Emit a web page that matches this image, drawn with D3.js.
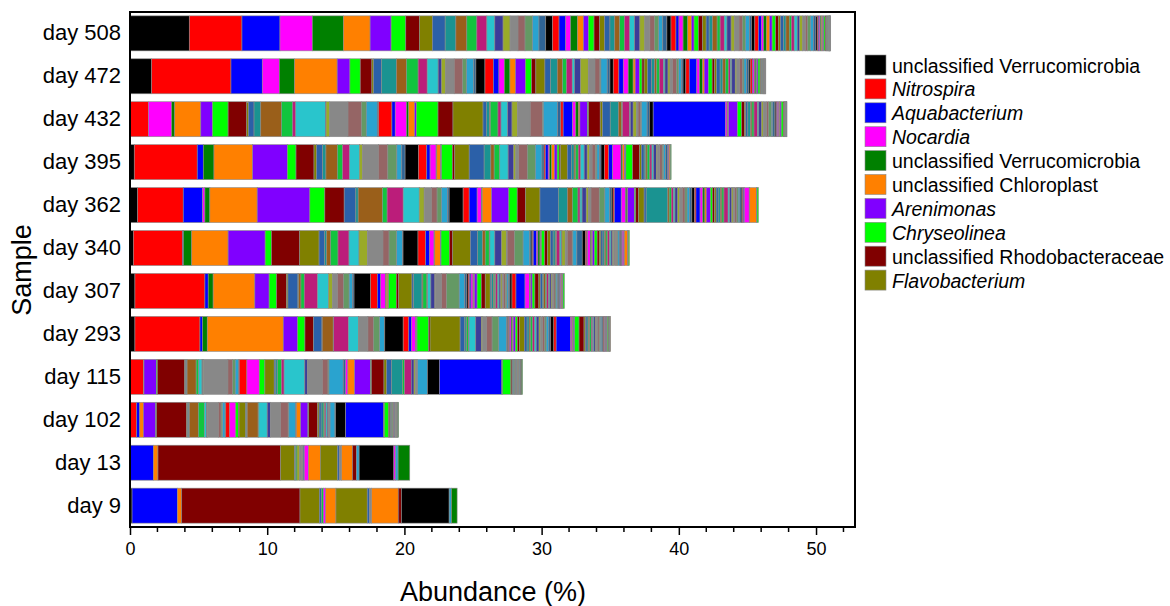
<!DOCTYPE html>
<html>
<head>
<meta charset="utf-8">
<script src="https://cdn.jsdelivr.net/npm/d3@7"></script>
<style>
  body { margin: 0; background: #fff; }
  text { font-family: "Liberation Sans", Arial, sans-serif; }
</style>
</head>
<body>
<svg id="chart" width="1170" height="606"></svg>
<script>
// samples, top to bottom
const samples = ["day 508", "day 472", "day 432", "day 395", "day 362", "day 340",
                 "day 307", "day 293", "day 115", "day 102", "day 13", "day 9"];

// colour cycle used for the taxa (repeats every 23 taxa)
const palette = ["#000000", "#FF0000", "#0000FF", "#FF00FF", "#008000", "#FF8000",
                 "#8000FF", "#00FF00", "#800000", "#808000", "#2B60A8", "#1A9391",
                 "#9A5F1A", "#12C43E", "#BB1D7A", "#29C5CC", "#3C3C99", "#99AA29",
                 "#888888", "#956565", "#649964", "#2AA3CF", "#2F6495"];

const legendLabels = ["unclassified Verrucomicrobia", "Nitrospira", "Aquabacterium", "Nocardia",
                      "unclassified Verrucomicrobia", "unclassified Chloroplast", "Arenimonas",
                      "Chryseolinea", "unclassified Rhodobacteraceae", "Flavobacterium"];
const legendItalic = [false, true, true, true, false, false, true, true, false, true];

const xTicks = [0, 10, 20, 30, 40, 50];

// abundance (%) of each taxon, in stacking order (115 taxa)
const day508 = [
  4.32, 3.84, 2.77, 2.36, 2.26, 1.95, 1.53, 1.07, 0.99, 0.95, 0.93, 0.78, 0.80, 0.73, 0.73, 0.58, 0.60, 0.51, 0.58, 0.51, 0.54, 0.48, 0.49,
  0.49, 0.48, 0.49, 0.36, 0.49, 0.44, 0.36, 0.41, 0.41, 0.36, 0.39, 0.35, 0.36, 0.35, 0.38, 0.36, 0.38, 0.36, 0.37, 0.34, 0.30, 0.30, 0.30,
  0.30, 0.36, 0.22, 0.30, 0.34, 0.28, 0.18, 0.32, 0.30, 0.26, 0.22, 0.24, 0.34, 0.22, 0.30, 0.20, 0.30, 0.26, 0.32, 0.24, 0.22, 0.30, 0.15,
  0.24, 0.26, 0.22, 0.16, 0.20, 0.24, 0.18, 0.26, 0.20, 0.15, 0.22, 0.18, 0.24, 0.16, 0.20, 0.22, 0.18, 0.22, 0.20, 0.16, 0.20, 0.22, 0.18,
  0.10, 0.08, 0.06, 0.08, 0.08, 0.10, 0.08, 0.10, 0.06, 0.04, 0.04, 0.04, 0.03, 0.03, 0.02, 0.02, 0.02, 0.02, 0.01, 0.01, 0.01, 0.01, 0.04];
const day472 = [
  1.58, 5.78, 2.28, 1.24, 1.12, 3.10, 0.93, 0.75, 0.85, 0.12, 0.58, 1.09, 0.73, 0.85, 0.66, 0.80, 0.25, 0.29, 0.63, 0.61, 0.29, 0.53, 0.15,
  0.66, 0.61, 0.41, 0.39, 0.41, 0.41, 0.73, 0.44, 0.31, 0.66, 0.41, 0.49, 0.39, 0.29, 0.41, 0.17, 0.44, 0.56, 0.49, 0.36, 0.07, 0.46, 0.20,
  0.24, 0.41, 0.32, 0.36, 0.36, 0.15, 0.30, 0.20, 0.15, 0.25, 0.30, 0.22, 0.15, 0.20, 0.28, 0.12, 0.22, 0.15, 0.18, 0.30, 0.15, 0.20, 0.12,
  0.20, 0.25, 0.55, 0.20, 0.22, 0.12, 0.30, 0.28, 0.18, 0.15, 0.25, 0.20, 0.18, 0.22, 0.15, 0.10, 0.25, 0.12, 0.20, 0.22, 0.10, 0.20, 0.15,
  0.10, 0.15, 0.05, 0.12, 0.10, 0.05, 0.10, 0.15, 0.05, 0.05, 0.04, 0.04, 0.03, 0.03, 0.02, 0.02, 0.02, 0.02, 0.02, 0.02, 0.02, 0.02, 0.02];
const day432 = [
  0.05, 1.29, 0.00, 1.70, 0.22, 1.90, 0.85, 1.14, 1.36, 0.12, 0.41, 0.49, 1.51, 0.82, 0.22, 2.16, 0.05, 0.26, 1.34, 0.97, 0.36, 0.80, 0.10,
  0.00, 0.97, 0.24, 0.83, 0.15, 0.44, 0.12, 1.58, 1.09, 2.19, 0.24, 0.24, 0.05, 0.56, 0.22, 0.49, 0.31, 0.41, 0.92, 0.90, 0.05, 1.04, 0.24,
  0.00, 0.17, 0.68, 0.24, 0.20, 0.10, 0.56, 0.07, 0.85, 0.17, 0.56, 0.60, 0.24, 0.05, 0.53, 0.05, 0.20, 0.24, 0.12, 0.20, 0.05, 0.41, 0.17,
  0.27, 0.00, 5.27, 0.12, 0.05, 0.05, 0.66, 0.30, 0.20, 0.10, 0.15, 0.20, 0.10, 0.15, 0.25, 0.10, 0.20, 0.12, 0.25, 0.15, 0.20, 0.10, 0.15,
  0.08, 0.06, 0.05, 0.10, 0.05, 0.04, 0.08, 0.15, 0.05, 0.03, 0.02, 0.02, 0.02, 0.02, 0.02, 0.02, 0.01, 0.01, 0.01, 0.01, 0.01, 0.01, 0.01];
const day395 = [
  0.31, 4.59, 0.44, 0.00, 0.78, 2.82, 2.53, 0.63, 1.31, 0.19, 0.44, 0.24, 0.83, 0.39, 0.49, 0.73, 0.00, 0.22, 1.17, 0.68, 0.66, 0.36, 0.24,
  0.97, 0.61, 0.24, 0.44, 0.05, 0.29, 0.05, 0.80, 0.17, 1.05, 1.09, 0.49, 0.24, 0.41, 0.00, 0.61, 0.41, 0.15, 0.21, 0.63, 0.58, 0.49, 0.15,
  0.00, 0.10, 0.20, 0.10, 0.15, 0.20, 0.20, 0.15, 0.10, 0.49, 0.30, 0.20, 0.12, 0.18, 0.18, 0.25, 0.22, 0.18, 0.18, 0.25, 0.10, 0.18, 0.12,
  0.24, 0.32, 0.29, 0.61, 0.10, 0.15, 0.10, 0.49, 0.49, 0.15, 0.20, 0.12, 0.10, 0.20, 0.15, 0.12, 0.20, 0.10, 0.15, 0.18, 0.10, 0.15, 0.12,
  0.02, 0.02, 0.02, 0.06, 0.02, 0.08, 0.02, 0.04, 0.00, 0.00, 0.00, 0.00, 0.00, 0.00, 0.00, 0.00, 0.00, 0.00, 0.00, 0.00, 0.00, 0.00, 0.00];
const day362 = [
  0.56, 3.32, 1.41, 0.17, 0.36, 3.45, 3.84, 1.09, 1.41, 0.00, 0.85, 0.17, 1.77, 0.34, 1.17, 1.17, 0.00, 0.36, 0.53, 0.41, 0.32, 0.44, 0.12,
  1.02, 0.44, 0.58, 0.32, 0.05, 0.68, 1.26, 0.61, 0.61, 1.05, 1.34, 0.66, 0.36, 0.41, 0.15, 0.15, 0.30, 0.15, 0.20, 0.60, 0.41, 0.36, 0.12,
  0.12, 0.10, 0.49, 0.32, 0.10, 0.05, 0.49, 0.10, 0.20, 0.41, 0.15, 1.58, 0.10, 0.15, 0.15, 0.12, 0.20, 0.15, 0.18, 0.20, 0.15, 0.20, 0.15,
  0.20, 0.10, 0.30, 0.20, 0.15, 0.10, 0.30, 0.15, 0.15, 0.12, 0.15, 0.15, 0.12, 0.15, 0.30, 0.12, 0.15, 0.10, 0.12, 0.15, 0.10, 0.12, 0.10,
  0.10, 0.06, 0.06, 0.36, 0.04, 0.49, 0.04, 0.10, 0.00, 0.00, 0.00, 0.00, 0.00, 0.00, 0.00, 0.00, 0.00, 0.00, 0.00, 0.00, 0.00, 0.00, 0.00];
const day340 = [
  0.24, 3.60, 0.05, 0.00, 0.61, 2.65, 2.70, 0.46, 2.06, 1.41, 0.41, 0.15, 0.29, 0.53, 0.80, 0.73, 0.00, 0.61, 1.14, 0.44, 0.56, 0.41, 0.05,
  1.09, 0.56, 0.29, 0.32, 0.05, 0.41, 0.05, 0.61, 0.24, 1.29, 0.53, 0.36, 0.19, 0.29, 0.05, 0.36, 0.49, 0.36, 0.05, 0.53, 0.63, 0.49, 0.10,
  0.10, 0.05, 0.24, 0.10, 0.15, 0.05, 0.05, 0.24, 0.20, 0.22, 0.20, 0.15, 0.05, 0.05, 0.24, 0.10, 0.05, 0.24, 0.15, 0.36, 0.05, 0.29, 0.39,
  0.24, 0.10, 0.05, 0.20, 0.10, 0.05, 0.15, 0.20, 0.15, 0.12, 0.15, 0.12, 0.10, 0.12, 0.15, 0.10, 0.12, 0.08, 0.12, 0.10, 0.08, 0.10, 0.08,
  0.05, 0.05, 0.04, 0.12, 0.03, 0.25, 0.04, 0.08, 0.00, 0.00, 0.00, 0.00, 0.00, 0.00, 0.00, 0.00, 0.00, 0.00, 0.00, 0.00, 0.00, 0.00, 0.00];
const day307 = [
  0.36, 5.10, 0.24, 0.00, 0.36, 3.04, 1.04, 0.54, 0.73, 0.10, 0.73, 0.05, 0.17, 0.24, 0.97, 0.80, 0.00, 0.29, 0.36, 0.44, 0.41, 0.24, 0.12,
  1.21, 0.49, 0.24, 0.36, 0.05, 0.12, 0.05, 0.56, 0.17, 0.97, 0.12, 0.61, 0.07, 0.29, 0.05, 0.24, 0.29, 0.05, 0.44, 0.36, 0.92, 0.41, 0.15,
  0.10, 0.10, 0.10, 0.15, 0.05, 0.05, 0.20, 0.30, 0.29, 0.36, 0.10, 0.15, 0.05, 0.10, 0.15, 0.10, 0.12, 0.10, 0.10, 0.15, 0.10, 0.12, 0.10,
  0.15, 0.29, 0.66, 0.32, 0.05, 0.05, 0.10, 0.20, 0.29, 0.10, 0.15, 0.10, 0.12, 0.10, 0.15, 0.08, 0.10, 0.08, 0.10, 0.10, 0.08, 0.10, 0.08,
  0.04, 0.04, 0.04, 0.06, 0.04, 0.06, 0.04, 0.10, 0.00, 0.00, 0.00, 0.00, 0.00, 0.00, 0.00, 0.00, 0.00, 0.00, 0.00, 0.00, 0.00, 0.00, 0.00];
const day293 = [
  0.36, 4.74, 0.19, 0.00, 0.34, 5.54, 1.05, 0.53, 0.61, 0.02, 0.61, 0.02, 0.80, 0.03, 1.07, 0.73, 0.00, 0.02, 0.68, 0.41, 0.44, 0.36, 0.02,
  1.34, 0.41, 0.19, 0.32, 0.03, 0.03, 0.03, 0.85, 0.10, 2.19, 0.34, 0.10, 0.03, 0.15, 0.03, 0.49, 0.41, 0.10, 0.29, 0.39, 0.49, 0.58, 0.07,
  0.05, 0.05, 0.05, 0.10, 0.10, 0.05, 0.15, 0.15, 0.15, 0.36, 0.20, 0.15, 0.10, 0.15, 0.15, 0.12, 0.20, 0.12, 0.15, 0.15, 0.10, 0.20, 0.12,
  0.24, 0.17, 1.05, 0.10, 0.05, 0.05, 0.10, 0.32, 0.36, 0.10, 0.12, 0.10, 0.10, 0.12, 0.10, 0.08, 0.12, 0.08, 0.10, 0.10, 0.08, 0.10, 0.08,
  0.05, 0.05, 0.04, 0.06, 0.04, 0.04, 0.04, 0.10, 0.04, 0.02, 0.02, 0.02, 0.02, 0.00, 0.00, 0.00, 0.00, 0.00, 0.00, 0.00, 0.00, 0.00, 0.00];
const day115 = [
  0.05, 0.92, 0.00, 0.00, 0.00, 0.05, 0.90, 0.07, 2.00, 0.06, 0.06, 0.05, 0.66, 0.19, 0.00, 0.24, 0.06, 0.06, 1.77, 0.34, 0.19, 0.24, 0.05,
  0.00, 0.56, 0.00, 0.90, 0.00, 0.00, 0.00, 0.41, 0.00, 0.68, 0.12, 0.12, 0.00, 0.29, 0.19, 1.51, 0.19, 0.00, 1.09, 0.41, 0.07, 1.04, 0.17,
  0.00, 0.00, 0.00, 0.17, 0.00, 0.49, 1.17, 0.05, 0.92, 0.20, 0.35, 0.80, 0.00, 0.15, 0.49, 0.00, 0.20, 0.10, 0.10, 0.05, 0.00, 0.73, 0.00,
  0.87, 0.00, 4.55, 0.00, 0.05, 0.00, 0.00, 0.61, 0.08, 0.05, 0.06, 0.06, 0.04, 0.06, 0.05, 0.04, 0.04, 0.04, 0.04, 0.04, 0.04, 0.04, 0.04,
  0.02, 0.02, 0.00, 0.00, 0.06, 0.00, 0.00, 0.02, 0.00, 0.00, 0.00, 0.00, 0.00, 0.00, 0.00, 0.00, 0.00, 0.00, 0.00, 0.00, 0.00, 0.00, 0.00];
const day102 = [
  0.05, 0.44, 0.22, 0.00, 0.00, 0.27, 0.90, 0.05, 2.20, 0.07, 0.06, 0.06, 0.66, 0.44, 0.00, 0.15, 0.05, 0.05, 0.78, 0.19, 0.10, 0.19, 0.05,
  0.00, 0.29, 0.00, 0.44, 0.00, 0.00, 0.00, 0.19, 0.05, 0.49, 0.05, 0.05, 0.80, 0.05, 0.00, 0.61, 0.24, 0.00, 0.73, 0.56, 0.05, 0.49, 0.05,
  0.00, 0.00, 0.00, 0.00, 0.00, 0.32, 0.53, 0.05, 0.66, 0.10, 0.15, 0.15, 0.00, 0.10, 0.10, 0.10, 0.10, 0.00, 0.10, 0.00, 0.00, 0.36, 0.05,
  0.73, 0.00, 2.77, 0.00, 0.05, 0.00, 0.00, 0.32, 0.08, 0.05, 0.05, 0.05, 0.05, 0.05, 0.05, 0.04, 0.04, 0.04, 0.04, 0.03, 0.03, 0.03, 0.03,
  0.00, 0.00, 0.00, 0.00, 0.05, 0.00, 0.00, 0.00, 0.00, 0.00, 0.00, 0.00, 0.00, 0.00, 0.00, 0.00, 0.00, 0.00, 0.00, 0.00, 0.00, 0.00, 0.00];
const day13 = [
  0.05, 0.00, 1.65, 0.00, 0.00, 0.34, 0.00, 0.00, 8.94, 1.02, 0.07, 0.00, 0.00, 0.10, 0.00, 0.00, 0.00, 0.20, 0.15, 0.05, 0.05, 0.00, 0.08,
  0.00, 0.00, 0.00, 0.32, 0.00, 0.85, 0.00, 0.00, 0.00, 1.26, 0.12, 0.00, 0.00, 0.00, 0.00, 0.00, 0.00, 0.00, 0.17, 0.00, 0.00, 0.00, 0.00,
  0.00, 0.00, 0.00, 0.00, 0.00, 0.80, 0.00, 0.00, 0.29, 0.00, 0.00, 0.00, 0.00, 0.00, 0.00, 0.00, 0.00, 0.00, 0.00, 0.00, 0.00, 0.19, 0.00,
  2.53, 0.00, 0.00, 0.12, 0.00, 0.00, 0.00, 0.00, 0.00, 0.00, 0.00, 0.00, 0.00, 0.00, 0.00, 0.00, 0.00, 0.00, 0.00, 0.00, 0.00, 0.19, 0.00,
  0.00, 0.00, 0.00, 0.00, 0.85, 0.00, 0.00, 0.00, 0.00, 0.00, 0.00, 0.00, 0.00, 0.00, 0.00, 0.00, 0.00, 0.00, 0.00, 0.00, 0.00, 0.00, 0.00];
const day9 = [
  0.15, 0.00, 3.30, 0.00, 0.00, 0.32, 0.00, 0.00, 8.62, 1.41, 0.17, 0.00, 0.00, 0.12, 0.00, 0.00, 0.00, 0.00, 0.00, 0.00, 0.00, 0.00, 0.00,
  0.00, 0.00, 0.00, 0.17, 0.00, 0.75, 0.00, 0.00, 0.00, 2.28, 0.16, 0.00, 0.00, 0.00, 0.00, 0.00, 0.00, 0.00, 0.16, 0.00, 0.00, 0.00, 0.00,
  0.00, 0.00, 0.00, 0.00, 0.00, 1.94, 0.00, 0.00, 0.24, 0.00, 0.00, 0.00, 0.00, 0.00, 0.00, 0.00, 0.00, 0.00, 0.00, 0.00, 0.00, 0.00, 0.00,
  3.47, 0.00, 0.00, 0.00, 0.00, 0.00, 0.00, 0.00, 0.00, 0.00, 0.00, 0.00, 0.00, 0.00, 0.00, 0.00, 0.00, 0.00, 0.00, 0.00, 0.00, 0.17, 0.00,
  0.00, 0.00, 0.00, 0.00, 0.41, 0.00, 0.00, 0.00, 0.00, 0.00, 0.00, 0.00, 0.00, 0.00, 0.00, 0.00, 0.00, 0.00, 0.00, 0.00, 0.00, 0.00, 0.00];

const abundance = [day508, day472, day432, day395, day362, day340,
                   day307, day293, day115, day102, day13, day9];

const svg = d3.select("#chart");
const plot = {left: 130, right: 855, top: 12, bottom: 527};

const x = d3.scaleLinear().domain([0, 52.84]).range([plot.left, plot.right]);
const y = d3.scaleBand().domain(samples)
    .range([plot.top, plot.bottom])
    .paddingInner(0.185).paddingOuter(0.09);

// segments
samples.forEach(function(s, si) {
    const vals = abundance[si];
    const ends = d3.cumsum(vals);
    const segs = vals.map(function(v, i) {
        return {v: v, x0: ends[i] - v, x1: ends[i], c: palette[i % palette.length]};
    }).filter(function(d) { return d.v > 0; });

    svg.append("g").selectAll("rect")
        .data(segs)
        .join("rect")
        .attr("x", d => x(d.x0))
        .attr("y", y(s))
        .attr("width", d => x(d.x1) - x(d.x0))
        .attr("height", y.bandwidth())
        .attr("fill", d => d.c)
        .attr("stroke", "#8a8a8a")
        .attr("stroke-width", 0.6);
});

// frame
svg.append("rect")
    .attr("x", plot.left).attr("y", plot.top)
    .attr("width", plot.right - plot.left).attr("height", plot.bottom - plot.top)
    .attr("fill", "none").attr("stroke", "#000").attr("stroke-width", 2);

// x axis
const xAxis = svg.append("g")
    .attr("transform", "translate(0," + plot.bottom + ")")
    .call(d3.axisBottom(x).tickValues(xTicks).tickSize(8).tickPadding(7).tickSizeOuter(0));
xAxis.select(".domain").remove();
xAxis.selectAll(".tick line").attr("stroke-width", 1.5);
xAxis.selectAll("text").attr("font-size", 18).attr("fill", "#000")
    .style("font-family", "'Liberation Sans', Arial, sans-serif");

svg.append("g")
    .attr("transform", "translate(0," + plot.bottom + ")")
    .selectAll("line")
    .data(d3.range(2, 53, 2).filter(v => v % 10 !== 0))
    .join("line")
    .attr("x1", d => x(d)).attr("x2", d => x(d))
    .attr("y1", 0).attr("y2", 5)
    .attr("stroke", "#000").attr("stroke-width", 1.5);

// y labels
const yAxis = svg.append("g")
    .attr("transform", "translate(" + plot.left + ",0)")
    .call(d3.axisLeft(y).tickSize(0).tickPadding(9));
yAxis.select(".domain").remove();
yAxis.selectAll("text").attr("font-size", 22).attr("fill", "#000")
    .style("font-family", "'Liberation Sans', Arial, sans-serif");

// axis titles
svg.append("text")
    .attr("x", 493).attr("y", 601)
    .attr("text-anchor", "middle")
    .attr("font-size", 27)
    .text("Abundance (%)");

svg.append("text")
    .attr("transform", "translate(31,270) rotate(-90)")
    .attr("text-anchor", "middle")
    .attr("font-size", 27)
    .text("Sample");

// legend
const legend = svg.append("g").attr("transform", "translate(865,55)");
const items = legend.selectAll("g")
    .data(legendLabels)
    .join("g")
    .attr("transform", (d, i) => "translate(0," + (i * 23.9) + ")");
items.append("rect")
    .attr("width", 21).attr("height", 20)
    .attr("fill", (d, i) => palette[i])
    .attr("stroke", "#8a8a8a").attr("stroke-width", 0.6);
items.append("text")
    .attr("x", 27).attr("y", 17.5)
    .attr("font-size", 19.5)
    .attr("font-style", (d, i) => legendItalic[i] ? "italic" : "normal")
    .text(d => d);
</script>
</body>
</html>
